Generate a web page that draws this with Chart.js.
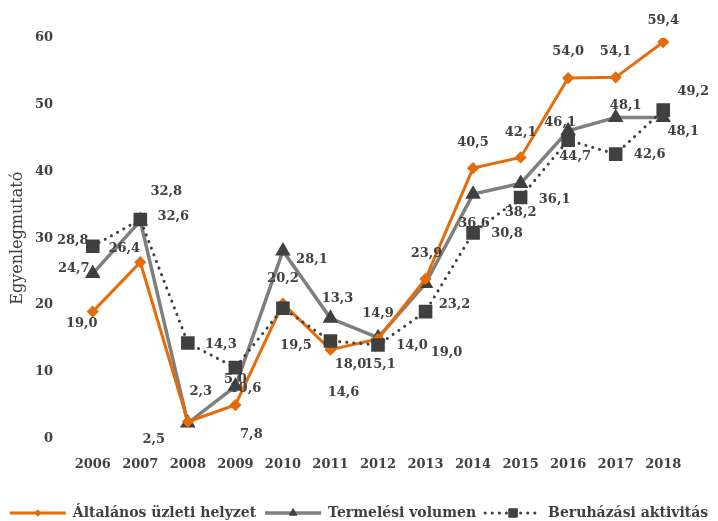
<!DOCTYPE html>
<html>
<head>
<meta charset="utf-8">
<script src="https://cdn.jsdelivr.net/npm/chart.js@4/dist/chart.umd.min.js"></script>
<style>
  html, body { margin: 0; padding: 0; background: #fff; }
  #wrap { width: 718px; height: 521px; }
</style>
</head>
<body>
<div id="wrap"><canvas id="chart" width="718" height="521"></canvas></div>
<script>
// Chart data
const years = ['2006', '2007', '2008', '2009', '2010', '2011', '2012', '2013', '2014', '2015', '2016', '2017', '2018'];
const uzletiHelyzet = [19.0, 26.4, 2.5, 5.0, 20.2, 13.3, 14.9, 23.9, 40.5, 42.1, 54.0, 54.1, 59.4];
const termelesiVolumen = [24.7, 32.6, 2.3, 7.8, 28.1, 18.0, 15.1, 23.2, 36.6, 38.2, 46.1, 48.1, 48.1];
const beruhazasiAktivitas = [28.8, 32.8, 14.3, 10.6, 19.5, 14.6, 14.0, 19.0, 30.8, 36.1, 44.7, 42.6, 49.2];
const yTicks = [0, 10, 20, 30, 40, 50, 60];

// Label offsets (px) from each point, as placed in the original
const uzletiLabelOffsets = [[-11, 12], [-16, -14], [-34, 18], [0, -25], [0, -25], [7, -51], [0, -25], [1, -25], [0, -26], [0, -25], [0, -26], [0, -26], [0, -21]];
const termelesiLabelOffsets = [[-19, -5], [33, -4], [13, -31], [16, 48], [29, 9], [20, 46], [2, 27], [29, 21], [1, 29], [0, 29], [-8, -8], [10, -12], [20, 14]];
const beruhazasiLabelOffsets = [[-20, -6], [26, -28], [33, 2], [10, 21], [13, 37], [13, 52], [34, 1], [21, 41], [34, 1], [34, 2], [7, 17], [34, 1], [30, -18]];

const textColor = '#404040';
const fontFamily = '"DejaVu Serif", serif';

// Draws the value labels next to each point
const valueLabels = {
  id: 'valueLabels',
  afterDatasetsDraw(chart) {
    const ctx = chart.ctx;
    ctx.save();
    ctx.font = 'bold 13px ' + fontFamily;
    ctx.fillStyle = textColor;
    ctx.textAlign = 'center';
    ctx.textBaseline = 'middle';
    chart.data.datasets.forEach((ds, i) => {
      const meta = chart.getDatasetMeta(i);
      meta.data.forEach((pt, j) => {
        const off = ds.labelOffsets[j];
        const txt = ds.data[j].toFixed(1).replace('.', ',');
        ctx.fillText(txt, pt.x + off[0], pt.y + off[1]);
      });
    });
    ctx.restore();
  }
};

// Excel style legend: line with marker, then the name
const lineLegend = {
  id: 'lineLegend',
  afterDraw(chart) {
    const ctx = chart.ctx;
    const y = 513;
    const lineLen = 56;
    const gap = 7;
    const itemGap = 9;
    ctx.save();
    ctx.font = 'bold 14px ' + fontFamily;
    const items = chart.data.datasets.map((ds) => ({ ds, w: ctx.measureText(ds.label).width }));
    const total = items.reduce((s, it) => s + lineLen + gap + it.w, 0) + itemGap * (items.length - 1);
    let x = (chart.width - total) / 2;
    items.forEach((it) => {
      const ds = it.ds;
      ctx.save();
      ctx.strokeStyle = ds.borderColor;
      ctx.lineWidth = ds.borderWidth;
      ctx.lineCap = ds.borderCapStyle || 'butt';
      ctx.setLineDash(ds.borderDash || []);
      ctx.beginPath();
      ctx.moveTo(x, y);
      ctx.lineTo(x + lineLen, y);
      ctx.stroke();
      ctx.restore();
      ctx.save();
      ctx.fillStyle = ds.pointBackgroundColor;
      ctx.strokeStyle = ds.pointBorderColor;
      ctx.lineWidth = 1;
      Chart.helpers.drawPoint(ctx, { pointStyle: ds.pointStyle, radius: ds.pointRadius * 0.8, borderWidth: 1 }, x + lineLen / 2, y);
      ctx.restore();
      ctx.fillStyle = textColor;
      ctx.textAlign = 'left';
      ctx.textBaseline = 'middle';
      ctx.fillText(ds.label, x + lineLen + gap, y);
      x += lineLen + gap + it.w + itemGap;
    });
    ctx.restore();
  }
};

const ctx = document.getElementById('chart').getContext('2d');
new Chart(ctx, {
  type: 'line',
  data: {
    labels: years,
    datasets: [{
      label: 'Általános üzleti helyzet',
      data: uzletiHelyzet,
      labelOffsets: uzletiLabelOffsets,
      borderColor: '#E46C0A',
      borderWidth: 3,
      pointStyle: 'rectRot',
      pointRadius: 4,
      pointBackgroundColor: '#E46C0A',
      pointBorderColor: '#E46C0A',
      order: 1
    }, {
      label: 'Termelési volumen',
      data: termelesiVolumen,
      labelOffsets: termelesiLabelOffsets,
      borderColor: '#7F7F7F',
      borderWidth: 3.5,
      pointStyle: 'triangle',
      pointRadius: 5.5,
      pointBackgroundColor: '#404040',
      pointBorderColor: '#404040',
      order: 2
    }, {
      label: 'Beruházási aktivitás',
      data: beruhazasiAktivitas,
      labelOffsets: beruhazasiLabelOffsets,
      borderColor: '#404040',
      borderWidth: 3,
      borderDash: [0.1, 7],
      borderCapStyle: 'round',
      pointStyle: 'rect',
      pointRadius: 7.5,
      pointBackgroundColor: '#404040',
      pointBorderColor: '#404040',
      order: 0
    }]
  },
  options: {
    responsive: false,
    animation: false,
    layout: { padding: { top: 38, bottom: 39, left: 0, right: 31 } },
    plugins: {
      legend: { display: false },
      tooltip: { enabled: false }
    },
    elements: { line: { tension: 0 }, point: { borderWidth: 1 } },
    scales: {
      x: {
        offset: true,
        grid: { display: false },
        border: { display: false },
        ticks: { color: textColor, font: { family: fontFamily, size: 13, weight: 'bold' }, padding: 10 }
      },
      y: {
        min: 0,
        max: 60,
        grid: { display: false },
        border: { display: false },
        afterBuildTicks: (scale) => { scale.ticks = yTicks.map((v) => ({ value: v })); },
        afterFit: (scale) => { scale.width = 69; },
        ticks: { color: textColor, font: { family: fontFamily, size: 13, weight: 'bold' }, padding: 8 },
        title: {
          display: true,
          text: 'Egyenlegmutató',
          color: textColor,
          font: { family: fontFamily, size: 16 },
          padding: { top: 8, bottom: 0 }
        }
      }
    }
  },
  plugins: [valueLabels, lineLegend]
});
</script>
</body>
</html>
